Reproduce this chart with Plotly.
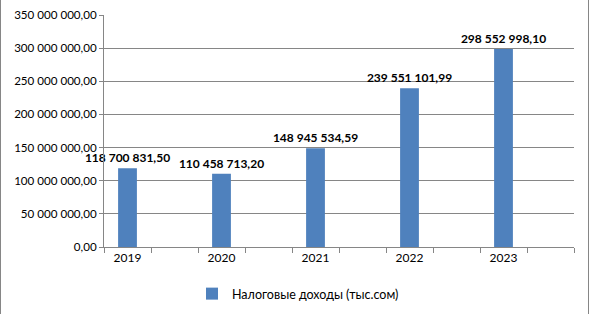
import plotly.graph_objects as go

years = ["2019", "2020", "2021", "2022", "2023"]
values = [118700831.50, 110458713.20, 148945534.59, 239551101.99, 298552998.10]
value_labels = ["118 700 831,50", "110 458 713,20", "148 945 534,59", "239 551 101,99", "298 552 998,10"]
y_ticks = [0, 50e6, 100e6, 150e6, 200e6, 250e6, 300e6, 350e6]
y_tick_labels = ["0,00", "50 000 000,00", "100 000 000,00", "150 000 000,00",
                 "200 000 000,00", "250 000 000,00", "300 000 000,00", "350 000 000,00"]
series_name = "Налоговые доходы (тыс.сом)"

# category slots: each year followed by an empty slot
cats = []
for i, y in enumerate(years):
    cats.append(y)
    cats.append(" " * (i + 1))

W, H = 590, 314
ml, mr, mt, mb = 104, 16, 15, 67
pw, ph = W - ml - mr, H - mt - mb

fig = go.Figure()
fig.add_trace(go.Bar(
    x=years, y=values, name=series_name,
    marker=dict(color="#4F81BD", line=dict(width=0)),
    width=0.4,
    text=value_labels, textposition="outside", constraintext="none",
    textfont=dict(family="Lato", size=12, color="#000000", weight="bold"),
    cliponaxis=False,
    showlegend=True,
))

fig.update_layout(
    width=W, height=H,
    margin=dict(l=ml, r=mr, t=mt, b=mb, autoexpand=False),
    paper_bgcolor="white", plot_bgcolor="white",
    font=dict(family="Lato", size=12, color="#000000"),
    showlegend=True,
    legend=dict(orientation="h", xref="container", yref="container",
                x=192 / W, xanchor="left", y=1 - 294 / H, yanchor="middle",
                font=dict(family="Lato", size=12.5, color="#000000"),
                itemwidth=30, tracegroupgap=0),
    xaxis=dict(type="category", categoryorder="array", categoryarray=cats,
               range=[-0.5, len(cats) - 0.5], automargin=False,
               showline=True, linecolor="#868686", linewidth=1,
               ticks="outside", tickson="boundaries", ticklen=5, tickcolor="#868686",
               showgrid=False, tickfont=dict(family="Lato", size=12)),
    yaxis=dict(range=[0, 350e6], tickvals=y_ticks, ticktext=y_tick_labels,
               automargin=False,
               showline=True, linecolor="#868686", linewidth=1,
               ticks="outside", ticklen=4, tickcolor="#868686",
               showgrid=True, gridcolor="#868686", gridwidth=1,
               zeroline=False, tickfont=dict(family="Lato", size=11.6)),
    shapes=[dict(type="rect", xref="paper", yref="paper",
                 x0=(0.5 - ml) / pw, x1=(W - 1.5 - ml) / pw,
                 y0=(mb - (H - 2.5)) / ph, y1=(mb + ph + mt - 0.5) / ph,
                 line=dict(color="#868686", width=1), layer="above")],
)

fig.write_html("out.html")
